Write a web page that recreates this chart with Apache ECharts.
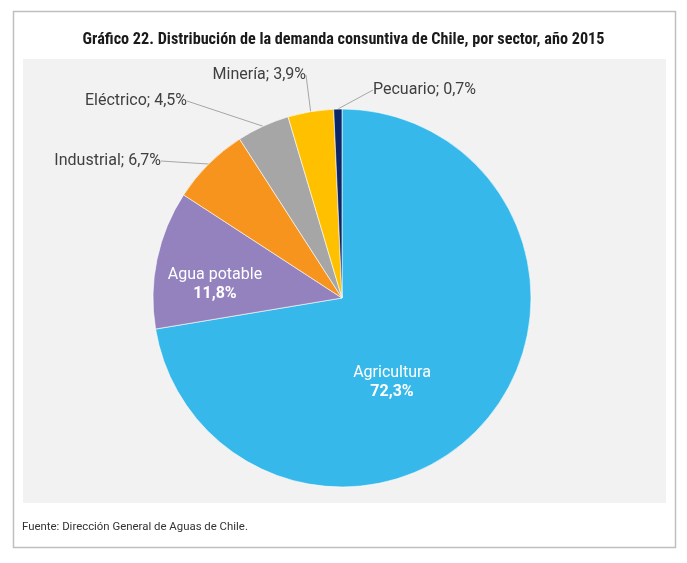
<!DOCTYPE html>
<html>
<head>
<meta charset="utf-8">
<script src="https://cdn.jsdelivr.net/npm/echarts@6/dist/echarts.min.js"></script>
<style>
html,body{margin:0;padding:0;background:#fff;}
#c{width:687px;height:563px;}
</style>
</head>
<body>
<div id="c"></div>
<script>
const titleText = 'Gráfico 22. Distribución de la demanda consuntiva de Chile, por sector, año 2015';
const sourceText = 'Fuente: Dirección General de Aguas de Chile.';
const categories = ['Agricultura', 'Agua potable', 'Industrial', 'Eléctrico', 'Minería', 'Pecuario'];
const values = [72.3, 11.8, 6.7, 4.5, 3.9, 0.7];
const colors = ['#37b8ea', '#9482bf', '#f7941e', '#a6a6a6', '#ffc000', '#0b2566'];
const insideLabels = ['Agricultura', 'Agua potable'];

const fmt = v => v.toFixed(1).replace('.', ',') + '%';
const FONT = 'Roboto, "Noto Sans", sans-serif';

const labelPos = {
  'Agricultura': {x: 392, y: 382, align: 'center'},
  'Agua potable': {x: 215, y: 284, align: 'center'},
  'Industrial': {x: 161, y: 161, align: 'right'},
  'Eléctrico': {x: 187, y: 101, align: 'right'},
  'Minería': {x: 306, y: 75, align: 'right'},
  'Pecuario': {x: 373, y: 90, align: 'left'}
};

const data = categories.map((name, i) => {
  const inside = insideLabels.includes(name);
  return {
    name: name,
    value: values[i],
    itemStyle: {color: colors[i]},
    label: inside ? {
      position: 'inside',
      formatter: '{n|' + name + '}\n{p|' + fmt(values[i]) + '}',
      rich: {
        n: {color: '#fff', fontSize: 16, fontFamily: FONT, lineHeight: 19, align: 'center'},
        p: {color: '#fff', fontSize: 16, fontFamily: FONT, fontWeight: 'bold', lineHeight: 19, align: 'center'}
      }
    } : {
      position: 'outside',
      formatter: name + '; ' + fmt(values[i]),
      color: '#404040',
      fontSize: 16,
      fontFamily: FONT
    },
    labelLine: {show: !inside}
  };
});

const chart = echarts.init(document.getElementById('c'));
chart.setOption({
  animation: false,
  backgroundColor: '#fff',
  title: [{
    text: titleText,
    left: 'center',
    top: 27,
    textStyle: {fontSize: 16.2, fontWeight: 'bold', color: '#1a1a1a', fontFamily: '"Roboto Condensed", "Liberation Sans Narrow", Roboto, sans-serif'}
  }, {
    text: sourceText,
    left: 17,
    top: 517,
    textStyle: {fontSize: 11.4, fontWeight: 'normal', color: '#333', fontFamily: FONT}
  }],
  graphic: [{
    type: 'rect', z: -10, silent: true,
    shape: {x: 13.5, y: 11.5, width: 662, height: 536},
    style: {fill: '#fff', stroke: '#bfbfbf', lineWidth: 1.5}
  }, {
    type: 'rect', z: -9, silent: true,
    shape: {x: 23, y: 59, width: 643, height: 444},
    style: {fill: '#f2f2f2'}
  }],
  series: [{
    type: 'pie',
    center: [342, 298],
    radius: 189,
    startAngle: 90,
    clockwise: true,
    avoidLabelOverlap: false,
    itemStyle: {borderColor: '#ffffff', borderWidth: 0.6},
    labelLine: {lineStyle: {color: '#a6a6a6', width: 1}, length: 12, length2: 0},
    data: data,
    labelLayout: function (p) {
      const pos = labelPos[categories[p.dataIndex]];
      return {x: pos.x, y: pos.y, align: pos.align, verticalAlign: 'middle'};
    }
  }]
});
</script>
</body>
</html>
